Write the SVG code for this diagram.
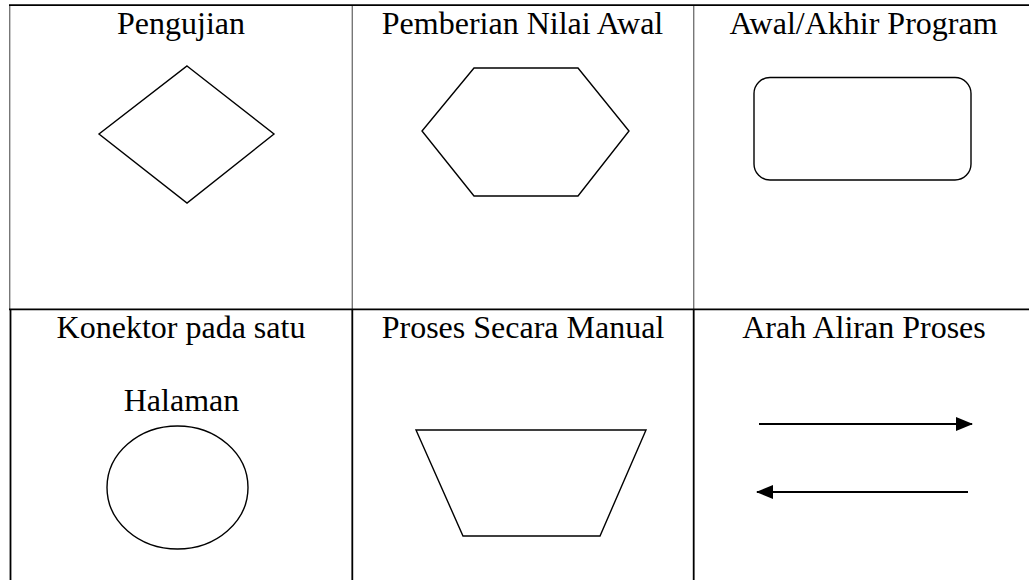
<svg xmlns="http://www.w3.org/2000/svg" width="1029" height="580" viewBox="0 0 1029 580">
<style>
.lbl{font-family:"Liberation Serif","Times New Roman",serif;font-size:32px;fill:#000;text-anchor:middle}
.shape{fill:none;stroke:#000;stroke-width:1.4}
.grid{stroke:#000;stroke-width:1.8}
.gridl{stroke:#777;stroke-width:1.4}
.flow{stroke:#000;stroke-width:1.8}
</style>
<defs>
<marker id="ah" markerWidth="17" markerHeight="14" refX="16" refY="7" orient="auto" markerUnits="userSpaceOnUse">
<path d="M0,0 L17,7 L0,14 Z" fill="#000"/>
</marker>
</defs>
<rect width="1029" height="580" fill="#fff"/>
<g id="table">
<line class="gridl" x1="9.7" y1="5" x2="9.7" y2="309"/>
<line class="gridl" x1="352.3" y1="5" x2="352.3" y2="309"/>
<line class="gridl" x1="693.7" y1="5" x2="693.7" y2="309"/>
<line class="grid" x1="9" y1="5.2" x2="1029" y2="5.2"/>
<line class="grid" x1="9" y1="309.3" x2="1029" y2="309.3"/>
<line class="grid" x1="10.5" y1="309" x2="10.5" y2="580"/>
<line class="grid" x1="352.3" y1="309" x2="352.3" y2="580"/>
<line class="grid" x1="693.7" y1="309" x2="693.7" y2="580"/>
</g>
<g id="pengujian">
<text class="lbl" x="181" y="34">Pengujian</text>
<polygon class="shape" points="187,66 274,134 187,203 99,134"/>
</g>
<g id="pemberian-nilai-awal">
<text class="lbl" x="522.5" y="34">Pemberian Nilai Awal</text>
<polygon class="shape" points="474,68 578,68 629,131 578,196 474,196 422,131"/>
</g>
<g id="awal-akhir-program">
<text class="lbl" x="863.5" y="34">Awal/Akhir Program</text>
<rect class="shape" x="754" y="77.5" width="217" height="102.5" rx="16" ry="16"/>
</g>
<g id="konektor">
<text class="lbl" x="181" y="338">Konektor pada satu</text>
<text class="lbl" x="181.5" y="411">Halaman</text>
<ellipse class="shape" cx="177.5" cy="487.5" rx="70.5" ry="61.5"/>
</g>
<g id="proses-manual">
<text class="lbl" x="523" y="338">Proses Secara Manual</text>
<polygon class="shape" points="416,430 646,430 600,536 463,536"/>
</g>
<g id="arah-aliran">
<text class="lbl" x="864" y="338">Arah Aliran Proses</text>
</g>
<g id="connectors">
<line class="flow" x1="759" y1="424" x2="972" y2="424" marker-end="url(#ah)"/>
<line class="flow" x1="968" y1="492" x2="757" y2="492" marker-end="url(#ah)"/>
</g>
</svg>
